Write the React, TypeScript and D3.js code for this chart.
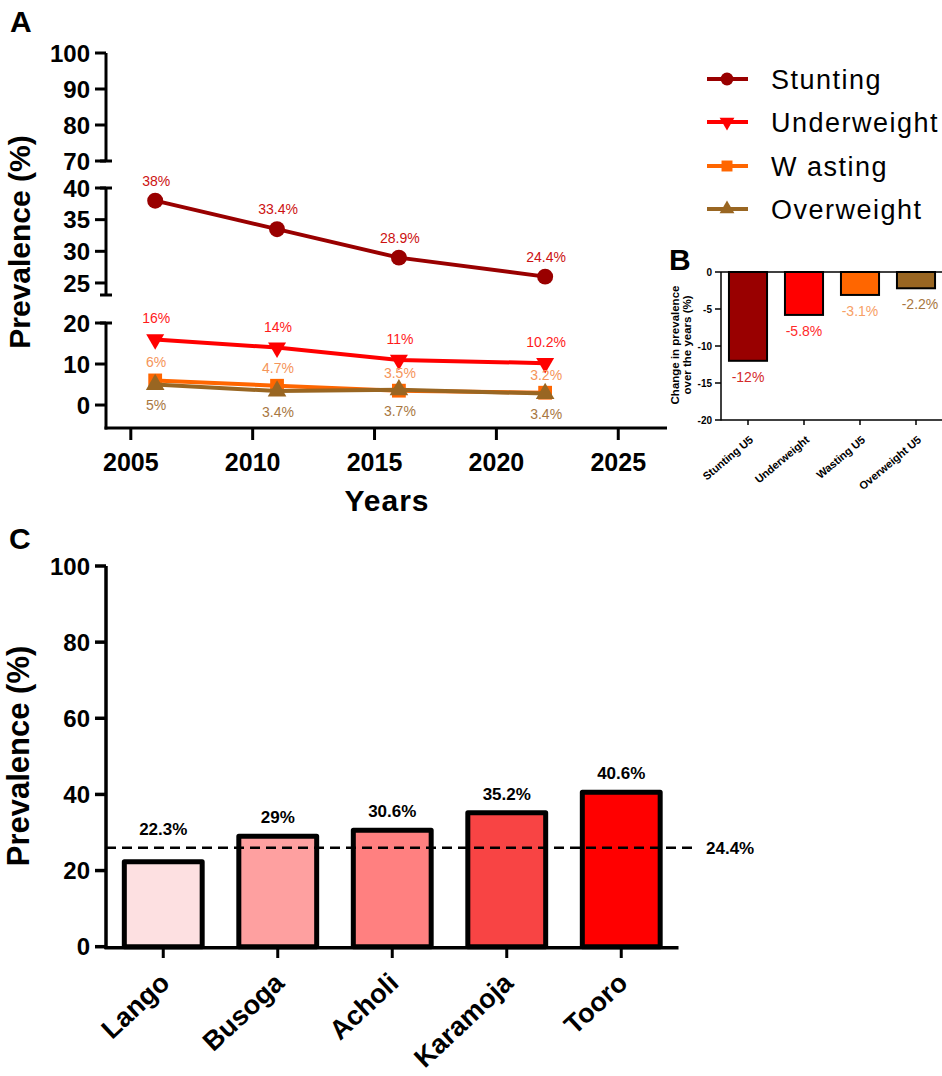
import * as d3 from "d3";
import React, { useEffect, useRef } from "react";

// Panel A – prevalence over time
const years = [2006, 2011, 2016, 2022];
const stunting = [38, 33.5, 29, 26];
const underweight = [16, 14, 11, 10.2];
const wasting = [6, 4.7, 3.5, 3];
const overweight = [5, 3.4, 3.7, 2.8];
const stuntingLabels = ["38%", "33.4%", "28.9%", "24.4%"];
const underweightLabels = ["16%", "14%", "11%", "10.2%"];
const wastingLabels = ["6%", "4.7%", "3.5%", "3.2%"];
const overweightLabels = ["5%", "3.4%", "3.7%", "3.4%"];
const seriesNames = ["Stunting", "Underweight", "W asting", "Overweight"];
const yearTicks = [2005, 2010, 2015, 2020, 2025];
const topTicks = [70, 80, 90, 100];
const midTicks = [25, 30, 35, 40];
const lowTicks = [0, 10, 20];

// Panel B – change over the years
const changeCats = ["Stunting U5", "Underweight", "Wasting U5", "Overweight U5"];
const changeValues = [-12, -5.8, -3.1, -2.2];
const changeLabels = ["-12%", "-5.8%", "-3.1%", "-2.2%"];
const changeTicks = [0, -5, -10, -15, -20];

// Panel C – stunting by region
const regions = ["Lango", "Busoga", "Acholi", "Karamoja", "Tooro"];
const regionValues = [22.3, 29, 30.6, 35.2, 40.6];
const regionLabels = ["22.3%", "29%", "30.6%", "35.2%", "40.6%"];
const nationalValue = 26;
const nationalLabel = "24.4%";
const regionTicks = [0, 20, 40, 60, 80, 100];

const FONT = "'Liberation Sans', Arial, Helvetica, sans-serif";

export default function App() {
  const ref = useRef<SVGSVGElement | null>(null);

  useEffect(() => {
    const svg = d3.select(ref.current);
    svg.selectAll("*").remove();
    svg.attr("font-family", FONT);

    // ---------- panel letters ----------
    const letters: [string, number, number][] = [["A", 10, 32], ["B", 669, 270], ["C", 9, 549]];
    letters.forEach(([t, x, y]) =>
      svg.append("text").attr("x", x).attr("y", y).attr("font-size", 30).attr("font-weight", "bold").text(t)
    );

    // ---------- Panel A ----------
    const gA = svg.append("g");
    const axX = 106;
    const xA = d3.scaleLinear().domain([2003.9, 2027]).range([104, 667]);
    const segs = [
      { scale: d3.scaleLinear().domain([70, 100]).range([161, 53]), ticks: topTicks },
      { scale: d3.scaleLinear().domain([23.1, 40]).range([295, 188]), ticks: midTicks },
      { scale: d3.scaleLinear().domain([-5.6, 20]).range([428, 323]), ticks: lowTicks },
    ];
    const yA = (v: number) => (v >= 70 ? segs[0].scale(v) : v > 22 ? segs[1].scale(v) : segs[2].scale(v));

    segs.forEach((s, i) => {
      const [r0, r1] = s.scale.range();
      gA.append("line").attr("x1", axX).attr("x2", axX).attr("y1", r1).attr("y2", r0 + (i === 2 ? 1.5 : 0))
        .attr("stroke", "#000").attr("stroke-width", 3);
      s.ticks.forEach((t) => {
        gA.append("line").attr("x1", 95).attr("x2", axX).attr("y1", s.scale(t)).attr("y2", s.scale(t))
          .attr("stroke", "#000").attr("stroke-width", 3);
        gA.append("text").attr("x", 90).attr("y", s.scale(t)).attr("dy", "0.36em").attr("text-anchor", "end")
          .attr("font-size", 24).attr("font-weight", "bold").text(t);
      });
      // break caps
      if (i < 2) gA.append("line").attr("x1", 100).attr("x2", 112).attr("y1", r0).attr("y2", r0).attr("stroke", "#000").attr("stroke-width", 3);
      if (i > 0) gA.append("line").attr("x1", 100).attr("x2", 112).attr("y1", r1).attr("y2", r1).attr("stroke", "#000").attr("stroke-width", 3);
    });

    gA.append("line").attr("x1", 104.5).attr("x2", 667).attr("y1", 428).attr("y2", 428).attr("stroke", "#000").attr("stroke-width", 3);
    yearTicks.forEach((t) => {
      gA.append("line").attr("x1", xA(t)).attr("x2", xA(t)).attr("y1", 428).attr("y2", 440).attr("stroke", "#000").attr("stroke-width", 3);
      gA.append("text").attr("x", xA(t)).attr("y", 471).attr("text-anchor", "middle").attr("font-size", 25)
        .attr("font-weight", "bold").text(t);
    });
    gA.append("text").attr("x", 387).attr("y", 511).attr("text-anchor", "middle").attr("font-size", 30)
      .attr("font-weight", "bold").attr("letter-spacing", 1).text("Years");
    gA.append("text").attr("transform", "translate(30,242) rotate(-90)").attr("text-anchor", "middle")
      .attr("font-size", 30).attr("font-weight", "bold").text("Prevalence (%)");

    const series = [
      { values: stunting, labels: stuntingLabels, color: "#990000", labelColor: "#cc1111", sym: d3.symbolCircle, size: 200, rot: 0, off: -20 },
      { values: underweight, labels: underweightLabels, color: "#ff0000", labelColor: "#ff1a1a", sym: d3.symbolTriangle, size: 140, rot: 180, off: -21 },
      { values: wasting, labels: wastingLabels, color: "#ff6600", labelColor: "#f5955a", sym: d3.symbolSquare, size: 190, rot: 0, off: -18 },
      { values: overweight, labels: overweightLabels, color: "#996622", labelColor: "#a8773f", sym: d3.symbolTriangle, size: 150, rot: 0, off: 21 },
    ];
    const line = d3.line<number>().x((_, i) => xA(years[i])).y((v) => yA(v));

    series.forEach((s) => {
      gA.append("path").attr("d", line(s.values)!).attr("fill", "none").attr("stroke", s.color).attr("stroke-width", 4);
      s.values.forEach((v, i) => {
        gA.append("path").attr("d", d3.symbol().type(s.sym).size(s.size)()!)
          .attr("transform", `translate(${xA(years[i])},${yA(v)}) rotate(${s.rot})`).attr("fill", s.color);
      });
    });
    series.forEach((s) => {
      s.values.forEach((v, i) => {
        gA.append("text").attr("x", xA(years[i]) + 1).attr("y", yA(v) + s.off).attr("dy", "0.35em")
          .attr("text-anchor", "middle").attr("font-size", 14).attr("fill", s.labelColor).text(s.labels[i]);
      });
    });

    // legend
    const legRows = [79, 122, 166, 209];
    series.forEach((s, i) => {
      const y = legRows[i];
      svg.append("line").attr("x1", 707).attr("x2", 748).attr("y1", y).attr("y2", y).attr("stroke", s.color).attr("stroke-width", 4);
      svg.append("path").attr("d", d3.symbol().type(s.sym).size(s.sym === d3.symbolCircle ? 130 : s.sym === d3.symbolSquare ? 120 : 95)()!)
        .attr("transform", `translate(727,${y}) rotate(${s.rot})`).attr("fill", s.color);
      svg.append("text").attr("x", 771).attr("y", y + 10).attr("font-size", 27).attr("letter-spacing", 1.5).text(seriesNames[i]);
    });

    // ---------- Panel B ----------
    const gB = svg.append("g");
    const xB = d3.scaleBand<string>().domain(changeCats).range([720, 944]).paddingInner(0.32).paddingOuter(0.16);
    const yB = d3.scaleLinear().domain([-20, 0]).range([420, 272]);
    const bColors = ["#990000", "#ff0000", "#ff6600", "#996622"];
    const bLabelColors = ["#d42a2a", "#ff2a2a", "#f7a066", "#a8773f"];

    gB.append("line").attr("x1", 721).attr("x2", 721).attr("y1", 272).attr("y2", 420.5).attr("stroke", "#000").attr("stroke-width", 1.5);
    gB.append("line").attr("x1", 721).attr("x2", 942).attr("y1", 272).attr("y2", 272).attr("stroke", "#000").attr("stroke-width", 1.5);
    gB.append("line").attr("x1", 721).attr("x2", 942).attr("y1", 420).attr("y2", 420).attr("stroke", "#000").attr("stroke-width", 1.5);
    changeTicks.forEach((t) => {
      gB.append("line").attr("x1", 715).attr("x2", 721).attr("y1", yB(t)).attr("y2", yB(t)).attr("stroke", "#000").attr("stroke-width", 1.5);
      gB.append("text").attr("x", 712).attr("y", yB(t)).attr("dy", "0.35em").attr("text-anchor", "end")
        .attr("font-size", 10).attr("font-weight", "bold").text(t);
    });
    changeCats.forEach((c, i) => {
      const cx = xB(c)! + xB.bandwidth() / 2;
      gB.append("line").attr("x1", cx).attr("x2", cx).attr("y1", 420).attr("y2", 425).attr("stroke", "#000").attr("stroke-width", 1.5);
      gB.append("text").attr("transform", `translate(${cx + 6},${441}) rotate(-40)`).attr("text-anchor", "end")
        .attr("font-size", 11).attr("font-weight", "bold").text(c);
      gB.append("rect").attr("x", xB(c)!).attr("y", yB(0)).attr("width", xB.bandwidth())
        .attr("height", yB(changeValues[i]) - yB(0)).attr("fill", bColors[i]).attr("stroke", "#000").attr("stroke-width", 2);
      gB.append("text").attr("x", cx + (i === 3 ? 4 : 0)).attr("y", yB(changeValues[i]) + 16).attr("dy", "0.35em")
        .attr("text-anchor", "middle").attr("font-size", 14).attr("fill", bLabelColors[i]).text(changeLabels[i]);
    });
    const tB = gB.append("text").attr("transform", "translate(679,345) rotate(-90)").attr("text-anchor", "middle")
      .attr("font-size", 11.5).attr("font-weight", "bold");
    tB.append("tspan").attr("x", 0).attr("dy", 0).text("Change in prevalence");
    tB.append("tspan").attr("x", 0).attr("dy", 12).text("over the years (%)");

    // ---------- Panel C ----------
    const gC = svg.append("g");
    const xC = d3.scaleBand<string>().domain(regions).range([106, 678.5]).paddingInner(0.32).paddingOuter(0.16);
    const yC = d3.scaleLinear().domain([0, 100]).range([946.7, 566]);
    const cColors = ["#fde0e1", "#fea0a0", "#ff8080", "#f84444", "#ff0000"];

    regions.forEach((r, i) => {
      gC.append("rect").attr("x", xC(r)!).attr("y", yC(regionValues[i])).attr("width", xC.bandwidth())
        .attr("height", yC(0) - yC(regionValues[i])).attr("fill", cColors[i]).attr("stroke", "#000")
        .attr("stroke-width", 5).attr("stroke-linejoin", "round");
    });
    gC.append("line").attr("x1", 106).attr("x2", 106).attr("y1", 566).attr("y2", 949).attr("stroke", "#000").attr("stroke-width", 3.5);
    gC.append("line").attr("x1", 104.5).attr("x2", 678.5).attr("y1", 947.7).attr("y2", 947.7).attr("stroke", "#000").attr("stroke-width", 3.5);
    regionTicks.forEach((t) => {
      gC.append("line").attr("x1", 95).attr("x2", 106).attr("y1", yC(t)).attr("y2", yC(t)).attr("stroke", "#000").attr("stroke-width", 3.5);
      gC.append("text").attr("x", 90).attr("y", yC(t)).attr("dy", "0.36em").attr("text-anchor", "end")
        .attr("font-size", 24).attr("font-weight", "bold").text(t);
    });
    regions.forEach((r, i) => {
      const cx = xC(r)! + xC.bandwidth() / 2;
      gC.append("line").attr("x1", cx).attr("x2", cx).attr("y1", 947.7).attr("y2", 958).attr("stroke", "#000").attr("stroke-width", 3);
      gC.append("text").attr("transform", `translate(${cx + 8},${985}) rotate(-43)`).attr("text-anchor", "end")
        .attr("font-size", 27).attr("font-weight", "bold").text(r);
      const top = Math.min(yC(regionValues[i]), yC(nationalValue));
      gC.append("text").attr("x", cx).attr("y", top - 19).attr("dy", "0.35em").attr("text-anchor", "middle")
        .attr("font-size", 17).attr("font-weight", "bold").text(regionLabels[i]);
    });
    gC.append("line").attr("x1", 106).attr("x2", 694).attr("y1", yC(nationalValue)).attr("y2", yC(nationalValue))
      .attr("stroke", "#000").attr("stroke-width", 2.5).attr("stroke-dasharray", "10,6");
    gC.append("text").attr("x", 706).attr("y", yC(nationalValue)).attr("dy", "0.36em").attr("font-size", 17)
      .attr("font-weight", "bold").text(nationalLabel);
    gC.append("text").attr("transform", "translate(29,756) rotate(-90)").attr("text-anchor", "middle")
      .attr("font-size", 31).attr("font-weight", "bold").text("Prevalence (%)");
  }, []);

  return (
    <svg ref={ref} width={942} height={1076} style={{ position: "absolute", left: 0, top: 0, background: "#fff" }} />
  );
}
